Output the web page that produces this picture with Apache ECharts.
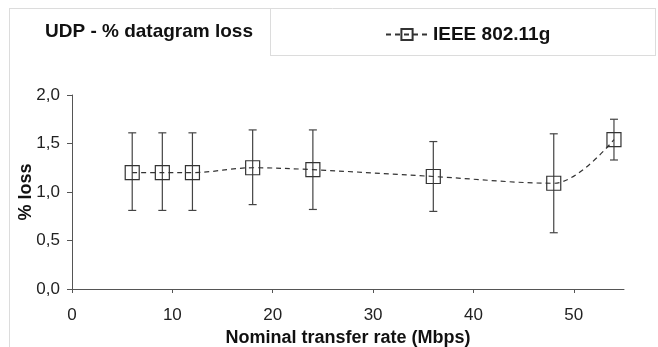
<!DOCTYPE html>
<html>
<head>
<meta charset="utf-8">
<script src="https://cdn.jsdelivr.net/npm/echarts@6/dist/echarts.min.js"></script>
<style>
html,body{margin:0;padding:0;background:#fff;}
#c{width:658px;height:347px;}
</style>
</head>
<body>
<div id="c"></div>
<script>
var rates = [6, 9, 12, 18, 24, 36, 48, 54];
var lossMean = [1.20, 1.20, 1.20, 1.25, 1.23, 1.16, 1.09, 1.54];
var lossLow = [0.81, 0.81, 0.81, 0.87, 0.82, 0.80, 0.58, 1.33];
var lossHigh = [1.61, 1.61, 1.61, 1.64, 1.64, 1.52, 1.60, 1.75];
var xTicks = [0, 10, 20, 30, 40, 50];
var yTicks = [0, 0.5, 1.0, 1.5, 2.0];
var seriesName = 'IEEE 802.11g';
var titleText = 'UDP - % datagram loss';

var lineData = rates.map(function (r, i) { return [r, lossMean[i]]; });
var errData = rates.map(function (r, i) { return [r, lossLow[i], lossHigh[i]]; });

var FONT = '"Liberation Sans", Arial, sans-serif';
var chart = echarts.init(document.getElementById('c'), null, {renderer: 'canvas'});
chart.setOption({
  backgroundColor: '#fff',
  animation: false,
  title: {
    text: titleText,
    left: 40, top: 17,
    textStyle: {fontFamily: FONT, fontSize: 19, fontWeight: 'bold', color: '#111'}
  },
  legend: {
    left: 380, top: 20,
    itemWidth: 42, itemHeight: 14,
    textStyle: {fontFamily: FONT, fontSize: 19, fontWeight: 'bold', color: '#111'},
    data: [seriesName]
  },
  graphic: [
    {type: 'line', shape: {x1: 9, y1: 8.5, x2: 656, y2: 8.5}, style: {stroke: '#dcdcdc', lineWidth: 1}},
    {type: 'line', shape: {x1: 9.5, y1: 8, x2: 9.5, y2: 347}, style: {stroke: '#dcdcdc', lineWidth: 1}},
    {type: 'line', shape: {x1: 270.5, y1: 8, x2: 270.5, y2: 55}, style: {stroke: '#dcdcdc', lineWidth: 1}},
    {type: 'line', shape: {x1: 270, y1: 55.5, x2: 656, y2: 55.5}, style: {stroke: '#dcdcdc', lineWidth: 1}},
    {type: 'line', shape: {x1: 655.5, y1: 8, x2: 655.5, y2: 55}, style: {stroke: '#dcdcdc', lineWidth: 1}}
  ],
  grid: {left: 72, right: 34, top: 95, bottom: 58, containLabel: false, outerBoundsMode: 'none'},
  xAxis: {
    type: 'value', min: 0, max: 55, interval: 10,
    name: 'Nominal transfer rate (Mbps)',
    nameLocation: 'middle', nameGap: 40, nameMoveOverlap: false,
    nameTextStyle: {fontFamily: FONT, fontSize: 18, fontWeight: 'bold', color: '#111'},
    axisLine: {lineStyle: {color: '#555', width: 1}},
    axisTick: {show: true, inside: false, length: 4, lineStyle: {color: '#555'}, customValues: xTicks},
    axisLabel: {fontFamily: FONT, fontSize: 17, color: '#222', margin: 18, customValues: xTicks},
    splitLine: {show: false}
  },
  yAxis: {
    type: 'value', min: 0, max: 2, interval: 0.5,
    name: '% loss',
    nameLocation: 'middle', nameGap: 37, nameRotate: 90, nameMoveOverlap: false,
    nameTextStyle: {fontFamily: FONT, fontSize: 18, fontWeight: 'bold', color: '#111'},
    axisLine: {show: true, lineStyle: {color: '#555', width: 1}},
    axisTick: {show: true, inside: false, length: 5, lineStyle: {color: '#555'}, customValues: yTicks},
    axisLabel: {
      fontFamily: FONT, fontSize: 17, color: '#222', margin: 12, customValues: yTicks,
      formatter: function (v) { return v.toFixed(1).replace('.', ','); }
    },
    splitLine: {show: false}
  },
  series: [
    {
      type: 'custom',
      name: 'err',
      data: errData,
      z: 1,
      renderItem: function (params, api) {
        var x = api.value(0);
        var lo = api.coord([x, api.value(1)]);
        var hi = api.coord([x, api.value(2)]);
        var cw = 4;
        var st = {stroke: '#444', lineWidth: 1.2};
        return {
          type: 'group',
          children: [
            {type: 'line', shape: {x1: lo[0], y1: lo[1], x2: hi[0], y2: hi[1]}, style: st},
            {type: 'line', shape: {x1: hi[0] - cw, y1: hi[1], x2: hi[0] + cw, y2: hi[1]}, style: st},
            {type: 'line', shape: {x1: lo[0] - cw, y1: lo[1], x2: lo[0] + cw, y2: lo[1]}, style: st}
          ]
        };
      }
    },
    {
      type: 'line',
      name: seriesName,
      data: lineData,
      smooth: 0.35,
      z: 2,
      symbol: 'rect',
      symbolSize: 14,
      itemStyle: {color: 'rgba(255,255,255,0)', borderColor: '#333', borderWidth: 1.2},
      lineStyle: {color: '#333', width: 1.2, type: [5, 4]}
    }
  ]
});
</script>
</body>
</html>
